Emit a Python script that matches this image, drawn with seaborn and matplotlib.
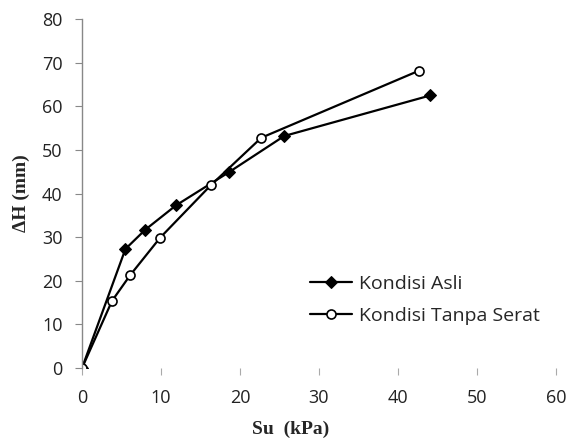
import numpy as np
import pandas as pd
import matplotlib
matplotlib.use("Agg")
import matplotlib.pyplot as plt
import seaborn as sns

# Data
su_asli = [0, 5.5, 8.0, 11.9, 18.6, 25.6, 44.1]
dh_asli = [0, 27.3, 31.7, 37.3, 44.9, 53.2, 62.5]
su_tanpa = [0, 3.8, 6.1, 9.9, 16.3, 22.7, 42.7]
dh_tanpa = [0, 15.4, 21.3, 29.9, 41.9, 52.8, 68.2]
series_names = ["Kondisi Asli", "Kondisi Tanpa Serat"]
x_ticks = [0, 10, 20, 30, 40, 50, 60]
y_ticks = [0, 10, 20, 30, 40, 50, 60, 70, 80]

sns.set_style("white")
plt.rcParams['font.family'] = ['Open Sans', 'DejaVu Sans']

fig = plt.figure(figsize=(5.71, 4.44), dpi=100)
ax = fig.add_axes([0.1436, 0.171, 0.830, 0.786])

df1 = pd.DataFrame({"Su": su_asli, "dH": dh_asli})
df2 = pd.DataFrame({"Su": su_tanpa, "dH": dh_tanpa})

sns.lineplot(data=df1, x="Su", y="dH", ax=ax, color="black", lw=1.6,
             marker="D", markersize=6.5, markerfacecolor="black",
             markeredgecolor="black", label=series_names[0], sort=False)
sns.lineplot(data=df2, x="Su", y="dH", ax=ax, color="black", lw=1.6,
             marker="o", markersize=6.5, markerfacecolor="white",
             markeredgecolor="black", markeredgewidth=1.2,
             label=series_names[1], sort=False)

ax.set_xlim(0, 60)
ax.set_ylim(0, 80)
ax.set_xticks(x_ticks)
ax.set_yticks(y_ticks)
ax.set_xticklabels([str(t) for t in x_ticks], fontsize=13, color="#222222")
ax.set_yticklabels([str(t) for t in y_ticks], fontsize=13, color="#222222")

for s in ["top", "right", "bottom"]:
    ax.spines[s].set_visible(False)
ax.spines["left"].set_color("#888888")
ax.spines["left"].set_linewidth(1.0)
ax.tick_params(axis="y", direction="out", length=5, width=0.8, color="#888888", pad=9, left=True)
ax.tick_params(axis="x", direction="out", length=5, width=0.8, color="#aaaaaa", pad=10, bottom=True)

ax.set_xlabel("Su  (kPa)", fontsize=14, fontweight="bold", family="Liberation Serif")
ax.set_ylabel("ΔH (mm)", fontsize=14, fontweight="bold", family="Liberation Serif")
ax.xaxis.set_label_coords(0.44, -0.15)
ax.yaxis.set_label_coords(-0.11, 0.5)

leg = ax.legend(loc="upper left", bbox_to_anchor=(0.464, 0.29), frameon=False,
                fontsize=14, handlelength=2.2, handletextpad=0.35, labelspacing=0.75,
                borderaxespad=0)

fig.savefig("out.png", dpi=100)
